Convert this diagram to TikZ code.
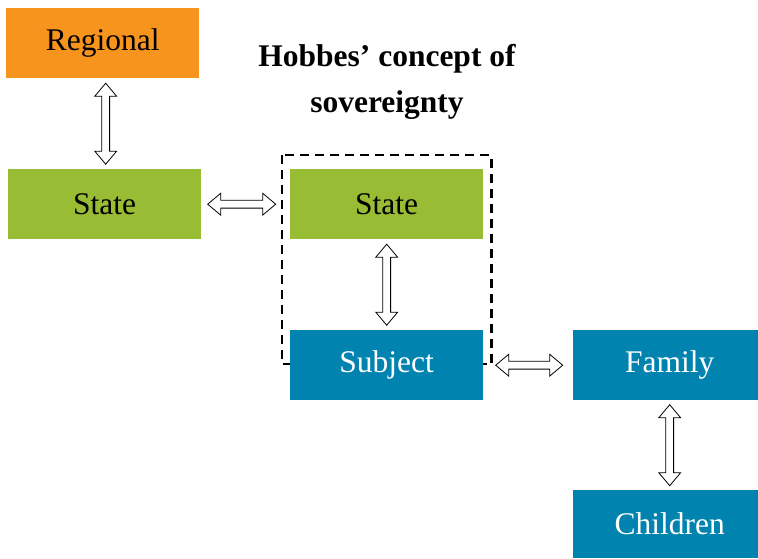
\documentclass[tikz,border=0pt]{standalone}
\usepackage{fontspec}
\setmainfont{Liberation Serif}
\usetikzlibrary{shapes.arrows,calc,backgrounds}
\definecolor{orangeR}{HTML}{F7941D}
\definecolor{greenS}{HTML}{99BC35}
\definecolor{blueS}{HTML}{0083AF}
\begin{document}
\begin{tikzpicture}[x=1pt,y=-1pt,
  box/.style={draw=none, minimum width=193pt, minimum height=70pt, inner sep=0pt,
    anchor=north west, font=\fontsize{31.5}{33}\selectfont},
  orangebox/.style={box, fill=orangeR, text=black},
  greenbox/.style={box, fill=greenS, text=black},
  bluebox/.style={box, fill=blueS, text=white},
  darrow/.style={double arrow, draw=black, fill=white, line width=0.8pt,
    inner xsep=0pt, inner ysep=3.5pt, double arrow head extend=7pt,
    double arrow tip angle=80},
  titletext/.style={font=\fontsize{31.5}{33}\selectfont\bfseries, anchor=base, inner sep=0pt}]
\useasboundingbox (0,0) rectangle (758,558);
\clip (0,0) rectangle (758,558);

\node[orangebox] (reg) at (6,8) {Regional};
\node[greenbox] (st1) at (8,169) {State};
\node[greenbox] (st2) at (290,169) {State};
\node[bluebox] (sub) at (290,330) {Subject};
\node[bluebox] (fam) at (573,330) {Family};
\node[bluebox, minimum height=68pt] (chi) at (573,490) {Children};

\node[titletext] (t1) at (387,66) {Hobbes’ concept of};
\node[titletext] (t2) at (387,112) {sovereignty};

\coordinate (dtl) at ($(st2.north west)+(-8,-14)$);
\coordinate (dbr) at ($(sub.east)+(8,-1)$);
\begin{scope}[on background layer]
\draw[black, line width=2.3pt, dash pattern=on 9pt off 6pt] (dtl) rectangle (dbr);
\end{scope}

\node[darrow, rotate=90, minimum height=81pt] (a1) at ($(reg.south)!0.5!(st1.north)+(2,0)$) {};
\node[darrow, minimum height=68pt] (a2) at ($(st1.east)!0.5!(dtl |- st1.east)$) {};
\node[darrow, rotate=90, minimum height=81pt] (a3) at ($(st2.south)!0.5!(sub.north)$) {};
\node[darrow, minimum height=67pt] (a4) at ($(dbr |- sub.east)!0.5!(fam.west)+(-3,0)$) {};
\node[darrow, rotate=90, minimum height=81pt] (a5) at ($(fam.south)!0.5!(chi.north)$) {};
\end{tikzpicture}
\end{document}
